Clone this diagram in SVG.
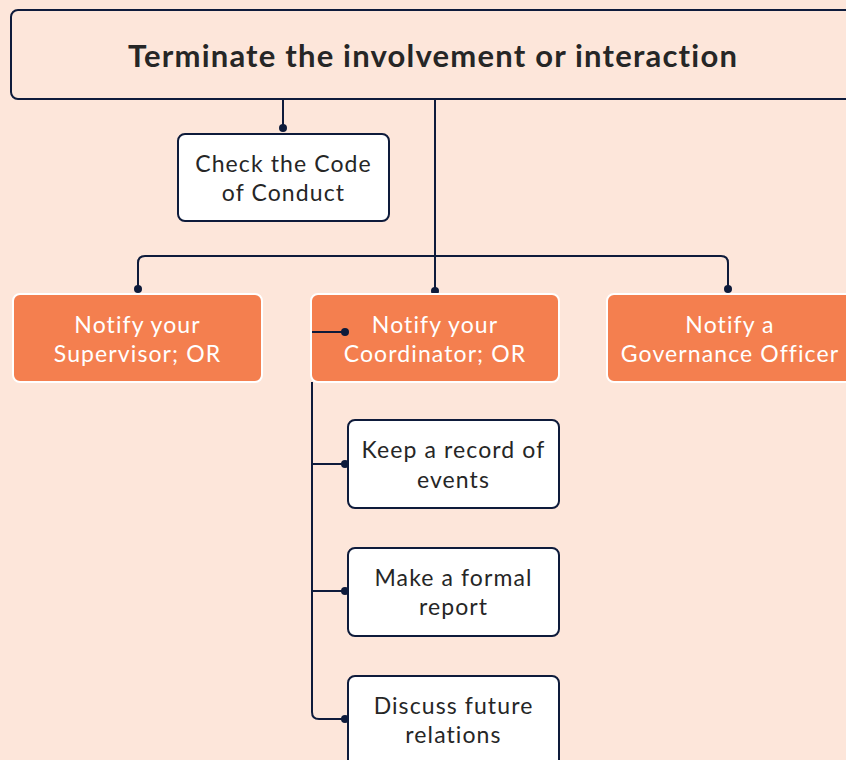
<svg xmlns="http://www.w3.org/2000/svg" width="846" height="760" viewBox="0 0 846 760">
<defs>
<style>
.bg{fill:#fde6da}
.navy{fill:none;stroke:#0e1b3b;stroke-width:2;stroke-linejoin:round}
.dot{fill:#0e1b3b}
.wbox{fill:#ffffff;stroke:#0e1b3b;stroke-width:2}
.obox{fill:#f47f4f;stroke:#ffffff;stroke-width:2}
.t{font-family:Lato,"Noto Sans","Liberation Sans",sans-serif;font-size:23px;letter-spacing:1.1px;text-anchor:middle;fill:#262626}
.w{fill:#ffffff}
.title{font-family:Lato,"Noto Sans","Liberation Sans",sans-serif;font-size:31px;letter-spacing:1.2px;font-weight:bold;text-anchor:middle;fill:#262626}
</style>
</defs>
<rect class="bg" x="0" y="0" width="846" height="760"/>
<g id="connectors">
<path class="navy" d="M283,99 V128"/>
<circle class="dot" cx="283" cy="128" r="4"/>
<path class="navy" d="M435,99 V291"/>
<circle class="dot" cx="435" cy="291" r="4"/>
<path class="navy" d="M138,289 V263 Q138,256 145,256 H721 Q728,256 728,263 V289"/>
<circle class="dot" cx="138" cy="289" r="4"/>
<circle class="dot" cx="728" cy="289" r="4"/>
<path class="navy" d="M312,382 V712 Q312,719 319,719 H345 M312,464 H345 M312,591 H345"/>
<circle class="dot" cx="345" cy="464" r="4"/>
<circle class="dot" cx="345" cy="591" r="4"/>
<circle class="dot" cx="345" cy="719" r="4"/>
</g>
<g id="node-title">
<rect class="navy" x="11" y="10" width="850" height="89" rx="7"/>
<text class="title" x="433" y="67">Terminate the involvement or interaction</text>
</g>
<g id="node-code">
<rect class="wbox" x="178" y="134" width="211" height="87" rx="7"/>
<text class="t" x="283.5" y="172">Check the Code</text>
<text class="t" x="283.5" y="201">of Conduct</text>
</g>
<g id="node-supervisor">
<rect class="obox" x="13" y="294" width="249" height="88" rx="7"/>
<text class="t w" x="137.5" y="333">Notify your</text>
<text class="t w" x="137.5" y="362">Supervisor; OR</text>
</g>
<g id="node-coordinator">
<rect class="obox" x="311" y="294" width="248" height="88" rx="7"/>
<text class="t w" x="435" y="333">Notify your</text>
<text class="t w" x="435" y="362">Coordinator; OR</text>
<path class="navy" d="M312,332 H345"/>
<circle class="dot" cx="345" cy="332" r="4"/>
</g>
<g id="node-governance">
<rect class="obox" x="607" y="294" width="260" height="88" rx="7"/>
<text class="t w" x="730" y="333">Notify a</text>
<text class="t w" x="730" y="362">Governance Officer</text>
</g>
<g id="node-record">
<rect class="wbox" x="348" y="420" width="211" height="88" rx="7"/>
<text class="t" x="453.5" y="458">Keep a record of</text>
<text class="t" x="453.5" y="488">events</text>
</g>
<g id="node-report">
<rect class="wbox" x="348" y="548" width="211" height="88" rx="7"/>
<text class="t" x="453.5" y="586">Make a formal</text>
<text class="t" x="453.5" y="615">report</text>
</g>
<g id="node-discuss">
<rect class="wbox" x="348" y="676" width="211" height="100" rx="7"/>
<text class="t" x="453.5" y="714">Discuss future</text>
<text class="t" x="453.5" y="743">relations</text>
</g>
</svg>
